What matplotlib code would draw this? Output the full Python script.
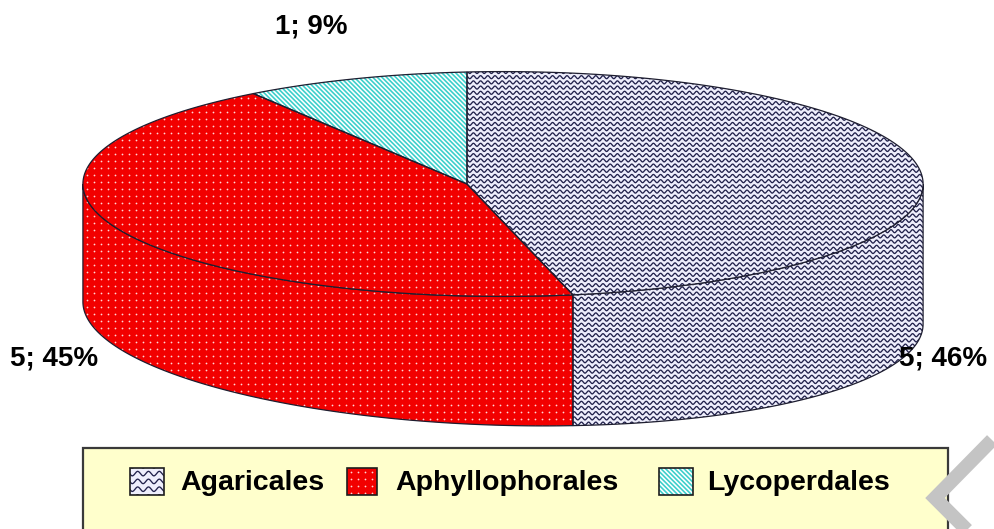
import numpy as np
import matplotlib.pyplot as plt
from matplotlib.patches import Polygon, Rectangle

# data
names = ['Agaricales', 'Aphyllophorales', 'Lycoperdales']
counts = [5, 5, 1]
percents = [46, 45, 9]

base_colors = ['#EEEEFC', '#F20000', '#3CCFCB']
textures = ['waves', 'dots', 'stripes']

plt.rcParams['font.family'] = ['Liberation Sans', 'DejaVu Sans']

fig = plt.figure(figsize=(9.94, 5.29), dpi=100)
ax = fig.add_axes([0, 0, 1, 1])
ax.set_xlim(0, 994)
ax.set_ylim(529, 0)
ax.axis('off')

# 3d pie geometry in pixels
cx, cy = 467, 184
rx, ry = 417, 112
persp = -0.0857
depth = 128


def proj(theta, drop=0.0):
    x, y = np.cos(theta), np.sin(theta)
    w = 1 + persp * x
    return cx + rx * x / w, cy - ry * y / w + drop / w


def add_texture(patch, kind, scale=1.0):
    x0, y0, x1, y1 = patch.get_extents().transformed(ax.transData.inverted()).extents
    xa, xb = min(x0, x1) - 10, max(x0, x1) + 10
    ya, yb = min(y0, y1) - 10, max(y0, y1) + 10
    if kind == 'waves':
        xs = np.arange(xa, xb, 0.4)
        for yy in np.arange(ya, yb, 5.2 * scale):
            ln, = ax.plot(xs, yy + 1.5 * scale * np.sin(2 * np.pi * xs / (7.2 * scale)),
                          color='#22224c', lw=0.95, zorder=patch.get_zorder())
            ln.set_clip_path(patch)
    elif kind == 'dots':
        gx, gy = np.meshgrid(np.arange(xa, xb, 7), np.arange(ya, yb, 7))
        sc = ax.scatter(gx.ravel(), gy.ravel(), s=1.6, color='#ffd6d6', lw=0,
                        zorder=patch.get_zorder())
        sc.set_clip_path(patch)
    elif kind == 'stripes':
        h = yb - ya
        for c in np.arange(xa - h, xb, 4.6):
            ln, = ax.plot([c, c + h], [ya, yb], color='white', lw=1.15,
                          zorder=patch.get_zorder())
            ln.set_clip_path(patch)


def shape(pts, color, kind, z):
    p = Polygon(pts, closed=True, facecolor=color, edgecolor='none', zorder=z)
    ax.add_patch(p)
    add_texture(p, kind)
    ax.add_patch(Polygon(pts, closed=True, fill=False, edgecolor='#1e1e30',
                         lw=0.9, zorder=z + 0.5))


total = sum(percents)
start = np.pi / 2
spans = []
for v in percents:
    end = start - v / total * 2 * np.pi
    spans.append((end, start))
    start = end

# side walls (front half only)
for (a, b), col, kind in zip(spans, base_colors, textures):
    for k in (-1, 0):
        lo = max(a, -np.pi + 2 * np.pi * k)
        hi = min(b, 2 * np.pi * k)
        if hi <= lo:
            continue
        t = np.linspace(lo, hi, 120)
        tx, ty = proj(t)
        bx, by = proj(t[::-1], depth)
        pts = np.column_stack([np.r_[tx, bx], np.r_[ty, by]])
        shape(pts, col, kind, 1)

# top faces
for (a, b), col, kind in zip(spans, base_colors, textures):
    t = np.linspace(a, b, 200)
    tx, ty = proj(t)
    pts = np.column_stack([np.r_[cx, tx], np.r_[cy, ty]])
    shape(pts, col, kind, 3)

# data labels
label_pos = [(943, 365), (54, 365), (311, 33)]
for (lx, ly), n, p in zip(label_pos, counts, percents):
    ax.text(lx, ly, f'{n}; {p}%', ha='center', va='baseline', fontsize=20,
            fontweight='bold', zorder=10)

# legend
ax.add_patch(Rectangle((83, 448), 865, 120, facecolor='#FFFFCC',
                       edgecolor='#3a3a3a', lw=1.6, zorder=5))
sw_x = [130, 347, 659]
sw_w = [34, 30, 34]
txt_x = [180, 395, 707]
for x, w, tx, name, col, kind in zip(sw_x, sw_w, txt_x, names, base_colors, textures):
    r = Rectangle((x, 468), w, 27, facecolor=col, edgecolor='none', zorder=6)
    ax.add_patch(r)
    add_texture(r, kind, 1.5 if kind == 'waves' else 1.0)
    ax.add_patch(Rectangle((x, 468), w, 27, fill=False, edgecolor='#1e1e1e',
                           lw=1.2, zorder=6.5))
    ax.text(tx, 490, name, ha='left', va='baseline', fontsize=20.5,
            fontweight='bold', zorder=7)

# grey chevron in the corner of the page
ax.plot([992, 935, 970], [440, 498, 533], color='#C4C4C4', lw=10,
        solid_joinstyle='miter', solid_capstyle='butt', zorder=8)

fig.savefig('out.png', dpi=100)
